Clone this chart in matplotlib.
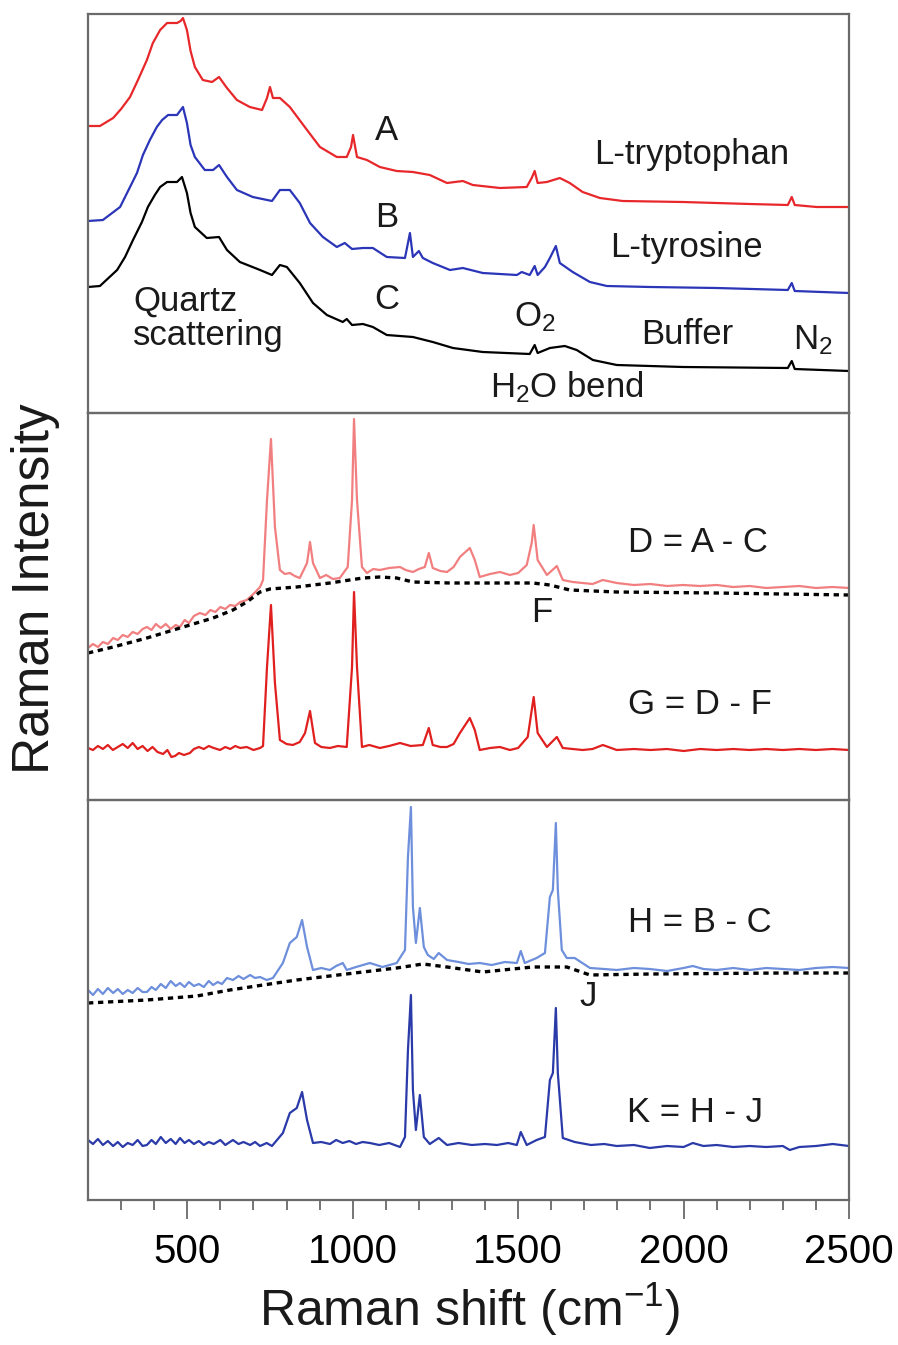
import matplotlib
matplotlib.use("Agg")
import matplotlib.pyplot as plt
from matplotlib.ticker import FixedLocator, NullLocator

plt.rcParams['font.family'] = ['Liberation Sans', 'DejaVu Sans']
plt.rcParams['mathtext.fontset'] = 'custom'
plt.rcParams['mathtext.rm'] = 'Liberation Sans'
plt.rcParams['mathtext.it'] = 'Liberation Sans'

# ---------------- data (Raman shift in cm-1, intensity in arbitrary units) ----------------
# Top panel: raw spectra
A_x = [200, 236, 276, 300, 327, 351, 378, 396, 418, 439, 469, 480, 487, 492, 499, 510, 523, 547, 575, 596, 620,
       650, 689, 726, 741, 750, 759, 780, 810, 862, 901, 952, 982, 995, 1001, 1013, 1043, 1082, 1133, 1182,
       1233, 1285, 1333, 1363, 1445, 1526, 1541, 1550, 1559, 1587, 1626, 1656, 1695, 1747, 1816, 1998, 2200,
       2315, 2327, 2336, 2402, 2500]
A_y = [287, 287, 295, 304, 316, 333, 353, 370, 383, 390, 390, 392, 395, 390, 383, 362, 346, 333, 331, 336, 325,
       313, 306, 303, 315, 326, 315, 315, 306, 283, 266, 256, 256, 266, 278, 256, 253, 246, 242, 241,
       238, 230, 232, 228, 225, 226, 235, 242, 230, 231, 235, 230, 221, 215, 212, 211, 209,
       208, 216, 208, 206, 206]

B_x = [200, 245, 297, 318, 348, 366, 387, 408, 424, 442, 469, 487, 499, 510, 523, 553, 578, 596, 620, 650, 698,
       756, 780, 810, 840, 871, 910, 952, 976, 998, 1031, 1061, 1103, 1158, 1173, 1182, 1200, 1212, 1242, 1294,
       1333, 1393, 1496, 1511, 1535, 1550, 1559, 1581, 1596, 1614, 1626, 1665, 1717, 1768, 1898, 2100, 2315,
       2327, 2336, 2500]
B_y = [192, 193, 206, 220, 240, 258, 273, 286, 293, 298, 298, 306, 290, 268, 256, 243, 243, 248, 236, 223, 216,
       212, 223, 223, 210, 190, 176, 166, 170, 164, 165, 165, 156, 155, 180, 156, 162, 155, 150, 143,
       145, 140, 138, 141, 138, 147, 138, 146, 155, 167, 150, 141, 131, 127, 126, 125, 123,
       130, 122, 120]

C_x = [200, 236, 288, 312, 336, 363, 381, 402, 418, 439, 469, 484, 499, 510, 523, 559, 596, 620, 659, 720, 756,
       780, 801, 840, 880, 922, 970, 982, 998, 1031, 1061, 1103, 1182, 1242, 1303, 1393, 1535, 1550, 1559,
       1596, 1641, 1677, 1726, 1798, 1998, 2315, 2327, 2336, 2500]
C_y = [126, 127, 143, 156, 173, 191, 206, 218, 226, 231, 231, 236, 220, 200, 186, 175, 176, 163, 151, 143, 138,
       148, 146, 130, 110, 98, 91, 94, 88, 89, 86, 78, 76, 71, 65, 61, 59, 68, 60,
       65, 67, 63, 53, 48, 46, 45, 52, 44, 42]

# Middle panel: tryptophan difference spectra
D_x = [200, 215, 230, 245, 260, 276, 290, 305, 320, 335, 350, 365, 378, 392, 405, 420, 435, 450, 465, 478,
       492, 505, 520, 538, 555, 570, 585, 600, 615, 629, 645, 660, 680, 700, 720, 729, 741, 753, 765, 780,
       795, 810, 825, 840, 862, 871, 880, 901, 920, 940, 961, 985, 998, 1004, 1013, 1028, 1043, 1062, 1082,
       1110, 1143, 1160, 1182, 1200, 1218, 1230, 1242, 1265, 1285, 1305, 1324, 1354, 1369, 1384, 1415, 1445,
       1475, 1500, 1526, 1541, 1547, 1559, 1587, 1617, 1635, 1665, 1695, 1725, 1756, 1798, 1850, 1900, 1950,
       1998, 2050, 2100, 2150, 2200, 2250, 2300, 2350, 2400, 2450, 2500]
D_y = [152, 156, 153, 158, 156, 162, 160, 165, 163, 168, 166, 171, 173, 170, 176, 172, 176, 171, 175, 173,
       180, 177, 184, 187, 185, 190, 188, 193, 191, 195, 194, 198, 200, 206, 213, 220, 300, 361, 273, 230,
       226, 227, 224, 222, 237, 258, 237, 222, 225, 221, 222, 233, 300, 381, 300, 233, 227, 231, 230,
       232, 233, 230, 228, 231, 233, 247, 232, 229, 228, 233, 243, 252, 240, 223, 226, 228,
       225, 227, 235, 257, 275, 240, 225, 234, 220, 218, 217, 216, 220, 217, 215, 216, 214,
       215, 214, 215, 213, 214, 212, 213, 214, 212, 213, 212]

F_x = [200, 276, 378, 478, 578, 638, 680, 720, 750, 831, 931, 1031, 1082, 1133, 1182, 1294, 1544, 1596, 1656,
       1798, 2100, 2500]
F_y = [147, 153, 162, 172, 182, 190, 198, 208, 211, 213, 217, 222, 223, 222, 218, 217, 217, 215, 210,
       208, 207, 205]

G_x = [200, 215, 230, 245, 260, 275, 290, 305, 320, 335, 350, 365, 380, 395, 410, 427, 440, 452, 463, 475,
       490, 508, 520, 535, 550, 565, 580, 599, 615, 630, 645, 660, 680, 700, 720, 729, 741, 753, 765, 780,
       800, 819, 840, 856, 871, 886, 905, 931, 955, 982, 998, 1004, 1013, 1028, 1050, 1082, 1110, 1143, 1175,
       1212, 1230, 1242, 1265, 1285, 1305, 1324, 1354, 1369, 1384, 1415, 1445, 1475, 1500, 1529, 1547, 1559,
       1587, 1617, 1635, 1665, 1695, 1725, 1756, 1798, 1850, 1900, 1950, 2000, 2050, 2100, 2150, 2200, 2250,
       2300, 2350, 2400, 2450, 2500]
G_y = [52, 50, 54, 51, 55, 50, 53, 56, 52, 57, 51, 54, 49, 53, 48, 46, 50, 43, 44, 47,
       45, 47, 51, 53, 51, 54, 52, 50, 53, 51, 54, 52, 53, 50, 52, 54, 133, 195, 117, 60,
       56, 55, 58, 67, 89, 57, 53, 52, 54, 53, 133, 208, 133, 53, 55, 52, 54, 57, 54,
       55, 72, 55, 53, 53, 56, 67, 82, 70, 50, 52, 53, 50, 52, 63, 103, 67,
       53, 63, 52, 51, 50, 51, 55, 50, 51, 50, 51, 49, 51, 50, 51, 50, 51,
       50, 51, 50, 51, 50]

# Bottom panel: tyrosine difference spectra
H_x = [200, 215, 230, 245, 260, 276, 290, 305, 320, 335, 350, 365, 378, 392, 405, 420, 435, 450, 465, 478,
       492, 505, 520, 535, 550, 565, 578, 592, 605, 620, 638, 655, 670, 690, 705, 720, 740, 759, 789, 810,
       831, 847, 862, 880, 905, 931, 950, 970, 982, 1010, 1052, 1090, 1133, 1158, 1167, 1176, 1182, 1191,
       1203, 1215, 1227, 1245, 1260, 1285, 1320, 1350, 1384, 1420, 1460, 1496, 1508, 1520, 1556, 1581, 1596,
       1605, 1614, 1620, 1632, 1647, 1671, 1717, 1760, 1798, 1850, 1898, 1950, 2000, 2028, 2060, 2100, 2150,
       2200, 2250, 2300, 2350, 2400, 2451, 2500]
H_y = [210, 205, 211, 206, 212, 207, 211, 206, 210, 207, 212, 208, 208, 213, 210, 216, 212, 219, 214, 217,
       213, 218, 214, 216, 213, 219, 215, 218, 216, 222, 220, 224, 221, 225, 222, 223, 220, 222, 237, 257,
       263, 280, 253, 230, 232, 230, 234, 237, 230, 233, 237, 233, 237, 250, 343, 393, 293, 257,
       292, 253, 245, 241, 247, 240, 238, 236, 237, 235, 238, 237, 249, 237, 242, 247, 303,
       310, 377, 310, 250, 242, 242, 232, 231, 230, 232, 231, 229, 232, 234, 231, 230, 232,
       230, 232, 231, 230, 232, 233, 232]

J_x = [200, 378, 529, 629, 729, 831, 931, 1031, 1133, 1212, 1285, 1393, 1544, 1647, 1717, 1898, 2300, 2500]
J_y = [197, 200, 204, 210, 215, 220, 224, 228, 232, 236, 233, 228, 233, 233, 225, 226, 227, 227]

K_x = [200, 215, 230, 245, 260, 276, 290, 305, 320, 335, 350, 365, 378, 392, 405, 420, 435, 450, 465, 478,
       492, 505, 520, 535, 550, 565, 580, 600, 615, 638, 655, 670, 690, 705, 720, 740, 756, 789, 810, 831,
       847, 862, 880, 905, 931, 950, 970, 990, 1010, 1030, 1052, 1080, 1110, 1143, 1158, 1167, 1176, 1182,
       1191, 1203, 1215, 1233, 1260, 1285, 1320, 1360, 1400, 1436, 1470, 1496, 1508, 1526, 1556, 1581, 1596,
       1605, 1614, 1620, 1635, 1671, 1720, 1760, 1798, 1850, 1898, 1950, 2000, 2028, 2060, 2100, 2150, 2200,
       2250, 2300, 2321, 2350, 2400, 2451, 2500]
K_y = [60, 56, 61, 55, 59, 54, 58, 53, 57, 55, 60, 54, 55, 60, 56, 63, 57, 61, 56, 62,
       57, 60, 56, 59, 55, 58, 56, 60, 55, 60, 56, 58, 55, 58, 54, 57, 54, 67, 87, 92,
       108, 80, 57, 58, 56, 60, 57, 59, 56, 58, 57, 55, 57, 53, 63, 150, 205, 110,
       70, 105, 63, 56, 62, 55, 57, 55, 56, 55, 57, 55, 68, 55, 60, 63, 120,
       127, 192, 127, 62, 58, 55, 56, 54, 55, 52, 54, 53, 57, 54, 55, 53, 54,
       53, 54, 50, 53, 54, 56, 54]

# ---------------- figure ----------------
W, H = 898, 1345
fig = plt.figure(figsize=(W / 100, H / 100), dpi=100)

def px_axes(top, bottom, left=88, right=849):
    return fig.add_axes([left / W, 1 - bottom / H, (right - left) / W, (bottom - top) / H])

ax1 = px_axes(14, 413)
ax2 = px_axes(413, 800)
ax3 = px_axes(800, 1200)

spine_color = '#6a6a6a'
for ax, ytop in ((ax1, 399), (ax2, 387), (ax3, 400)):
    ax.set_xlim(200, 2500)
    ax.set_ylim(0, ytop)
    ax.yaxis.set_major_locator(NullLocator())
    for s in ax.spines.values():
        s.set_color(spine_color)
        s.set_linewidth(1.6)
    ax.set_facecolor('none')

for ax in (ax1, ax2):
    ax.xaxis.set_major_locator(NullLocator())
    ax.xaxis.set_minor_locator(NullLocator())

ax3.xaxis.set_major_locator(FixedLocator([500, 1000, 1500, 2000, 2500]))
ax3.xaxis.set_minor_locator(FixedLocator([v for v in range(300, 2500, 100) if v % 500 != 0]))
ax3.tick_params(axis='x', which='major', direction='out', length=14, width=1.3, color=spine_color,
                labelsize=29, pad=10)
ax3.tick_params(axis='x', which='minor', direction='out', length=7, width=1.3, color=spine_color)

lw = 1.6
ax1.plot(A_x, A_y, color='#e8272b', lw=lw)
ax1.plot(B_x, B_y, color='#2b35b8', lw=lw)
ax1.plot(C_x, C_y, color='black', lw=lw)

dash = (0, (1.6, 1.4))
ax2.plot(D_x, D_y, color='#f27f80', lw=lw)
ax2.plot(F_x, F_y, color='black', lw=2.4, linestyle=dash)
ax2.plot(G_x, G_y, color='#e0201f', lw=lw)

ax3.plot(H_x, H_y, color='#6e8fdc', lw=lw)
ax3.plot(J_x, J_y, color='black', lw=2.4, linestyle=dash)
ax3.plot(K_x, K_y, color='#2a3aa8', lw=lw)

fs = 25
tc = '#1a1a1a'
ax1.text(1103, 282, 'A', fontsize=fs, color=tc, ha='center', va='center')
ax1.text(1103, 195, 'B', fontsize=fs, color=tc, ha='center', va='center')
ax1.text(1103, 113, 'C', fontsize=fs, color=tc, ha='center', va='center')
ax1.text(336, 95, 'Quartz\nscattering', fontsize=fs, color=tc, ha='left', va='center', linespacing=1.05)
ax1.text(2025, 258, 'L-tryptophan', fontsize=fs, color=tc, ha='center', va='center')
ax1.text(2010, 165, 'L-tyrosine', fontsize=fs, color=tc, ha='center', va='center')
ax1.text(1550, 96, r'O$_2$', fontsize=fs, color=tc, ha='center', va='center')
ax1.text(2010, 78, 'Buffer', fontsize=fs, color=tc, ha='center', va='center')
ax1.text(2390, 73, r'N$_2$', fontsize=fs, color=tc, ha='center', va='center')
ax1.text(1647, 26, r'H$_2$O bend', fontsize=fs, color=tc, ha='center', va='center')

ax2.text(2043, 257, 'D = A - C', fontsize=fs, color=tc, ha='center', va='center')
ax2.text(1572, 187, 'F', fontsize=fs, color=tc, ha='center', va='center')
ax2.text(2049, 96, 'G = D - F', fontsize=fs, color=tc, ha='center', va='center')

ax3.text(2049, 277, 'H = B - C', fontsize=fs, color=tc, ha='center', va='center')
ax3.text(1711, 203, 'J', fontsize=fs, color=tc, ha='center', va='center')
ax3.text(2034, 88, 'K = H - J', fontsize=fs, color=tc, ha='center', va='center')

fig.text(36 / W, 1 - 589 / H, 'Raman Intensity', rotation=90, fontsize=37, color=tc,
         ha='center', va='center')
fig.text(470 / W, 1 - 1309 / H, r'Raman shift (cm$^{-1}$)', fontsize=36, color=tc,
         ha='center', va='center')

fig.savefig('out.png', dpi=100, facecolor='white')
